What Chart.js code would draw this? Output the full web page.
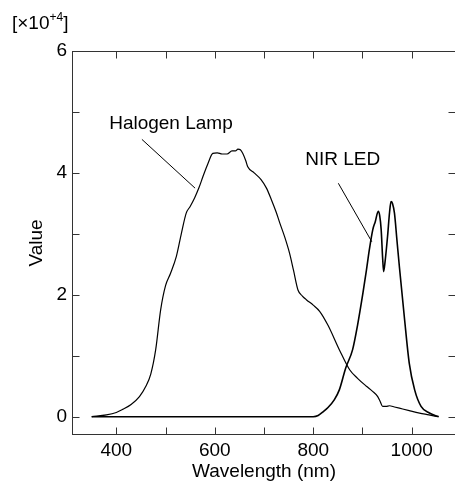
<!DOCTYPE html>
<html>
<head>
<meta charset="utf-8">
<script src="https://cdn.jsdelivr.net/npm/chart.js@4/dist/chart.umd.min.js"></script>
<style>
  html, body { margin: 0; padding: 0; background: #fff; overflow: hidden; }
  #wrap { width: 462px; height: 484px; }
</style>
</head>
<body>
<div id="wrap"><canvas id="SpectrumChart" width="462" height="484"></canvas></div>
<script>
// spectra, intensity in units of 1e4
const halogenWl = [350, 380, 400, 413, 430, 447, 460, 470, 480, 490, 500, 510, 522, 532, 542, 550, 559, 568, 576, 586, 596, 605, 615, 625, 635, 642, 647, 652, 657, 663, 667, 680, 694, 705, 715, 725, 732, 742, 752, 760, 769, 778, 786, 800, 813, 830, 853, 874, 890, 908, 920, 931, 936, 941, 948, 955, 965, 975, 995, 1016, 1035, 1053];
const halogenVal = [0, 0.03, 0.07, 0.12, 0.2, 0.33, 0.5, 0.7, 1.1, 1.75, 2.15, 2.35, 2.63, 3.0, 3.34, 3.45, 3.59, 3.76, 3.94, 4.15, 4.32, 4.33, 4.31, 4.31, 4.36, 4.36, 4.39, 4.38, 4.32, 4.2, 4.1, 4.0, 3.89, 3.75, 3.56, 3.35, 3.18, 2.95, 2.68, 2.4, 2.08, 1.98, 1.92, 1.83, 1.73, 1.5, 1.1, 0.77, 0.63, 0.5, 0.42, 0.33, 0.25, 0.17, 0.17, 0.18, 0.16, 0.14, 0.1, 0.06, 0.03, 0];

const ledWl = [350, 400, 450, 500, 550, 600, 650, 700, 750, 800, 810, 820, 830, 843, 853, 866, 880, 890, 901, 908, 914, 921, 926, 932, 935, 938, 941, 943, 946, 951, 955, 958, 961, 965, 970, 975, 985, 995, 1006, 1019, 1036, 1055];
const ledVal = [0, 0, 0, 0, 0, 0, 0, 0, 0, 0, 0.02, 0.08, 0.15, 0.28, 0.44, 0.8, 1.1, 1.5, 2.03, 2.4, 2.74, 3.07, 3.2, 3.37, 3.3, 3.07, 2.6, 2.38, 2.55, 2.96, 3.35, 3.53, 3.5, 3.34, 2.9, 2.46, 1.64, 0.88, 0.44, 0.17, 0.06, 0];

const xLabels = [400, 600, 800, 1000];
const yLabels = [0, 2, 4, 6];
const xMarks = [400, 500, 600, 700, 800, 900, 1000];
const yMarks = [0, 1, 2, 3, 4, 5, 6];

// callout text and leader lines, in data units
const callouts = [
  { text: 'Halogen Lamp', at: [511, 4.81], from: [452, 4.55], to: [560, 3.75] },
  { text: 'NIR LED', at: [860, 4.21], from: [851, 3.83], to: [919, 2.87] }
];

const FONT = '"Liberation Sans", Arial, sans-serif';
Chart.defaults.font.family = FONT;
Chart.defaults.font.size = 19;
Chart.defaults.color = '#000';

const toPoints = (xs, ys) => xs.map((v, i) => ({ x: v, y: ys[i] }));

const frame = {
  id: 'frame',
  afterDatasetsDraw(chart) {
    const { ctx, chartArea: a, scales: { x, y } } = chart;
    const L = Math.round(a.left) + 0.5, R = Math.round(a.right) - 0.5;
    const T = Math.round(a.top) + 0.5, B = Math.round(a.bottom) - 0.5;
    ctx.save();
    ctx.strokeStyle = '#333';
    ctx.lineWidth = 1;
    ctx.strokeRect(L, T, R - L, B - T);

    // ticks point into the plot
    ctx.beginPath();
    xMarks.forEach(v => {
      const px = Math.round(x.getPixelForValue(v)) + 0.5;
      ctx.moveTo(px, B); ctx.lineTo(px, B - 7);
      ctx.moveTo(px, T); ctx.lineTo(px, T + 7);
    });
    yMarks.forEach(v => {
      const py = Math.round(y.getPixelForValue(v)) + 0.5;
      ctx.moveTo(L, py); ctx.lineTo(L + 7, py);
      ctx.moveTo(R, py); ctx.lineTo(R - 7, py);
    });
    ctx.stroke();

    ctx.strokeStyle = '#000';
    ctx.fillStyle = '#000';
    ctx.font = '19px ' + FONT;
    ctx.textAlign = 'center';
    ctx.textBaseline = 'middle';
    callouts.forEach(c => {
      ctx.beginPath();
      ctx.moveTo(x.getPixelForValue(c.from[0]), y.getPixelForValue(c.from[1]));
      ctx.lineTo(x.getPixelForValue(c.to[0]), y.getPixelForValue(c.to[1]));
      ctx.stroke();
      ctx.fillText(c.text, x.getPixelForValue(c.at[0]), y.getPixelForValue(c.at[1]));
    });

    // axis multiplier
    ctx.textAlign = 'left';
    ctx.textBaseline = 'alphabetic';
    ctx.fillText('[\u00d710', 12, 29);
    const w = ctx.measureText('[\u00d710').width;
    ctx.font = '12px ' + FONT;
    ctx.fillText('+4', 12 + w, 21);
    const w2 = ctx.measureText('+4').width;
    ctx.font = '19px ' + FONT;
    ctx.fillText(']', 12 + w + w2, 29);
    ctx.restore();
  }
};

new Chart(document.getElementById('SpectrumChart'), {
  type: 'line',
  data: {
    datasets: [{
      label: 'Halogen Lamp',
      data: toPoints(halogenWl, halogenVal),
      borderColor: '#000',
      borderWidth: 1.2,
      pointRadius: 0,
      cubicInterpolationMode: 'monotone'
    }, {
      label: 'NIR LED',
      data: toPoints(ledWl, ledVal),
      borderColor: '#000',
      borderWidth: 1.6,
      pointRadius: 0,
      cubicInterpolationMode: 'monotone'
    }]
  },
  options: {
    responsive: false,
    animation: false,
    devicePixelRatio: 1,
    layout: { padding: { top: 51, right: 6, left: 0, bottom: 0 } },
    plugins: {
      legend: { display: false },
      tooltip: { enabled: false }
    },
    scales: {
      x: {
        type: 'linear',
        min: 310,
        max: 1090,
        border: { display: false },
        grid: { display: false, drawTicks: false },
        afterBuildTicks: s => { s.ticks = xLabels.map(v => ({ value: v })); },
        afterFit: s => { s.height = 49; },
        ticks: { padding: 4, maxRotation: 0, callback: v => String(v) },
        title: { display: true, text: 'Wavelength (nm)', padding: { top: 0, bottom: 1 } }
      },
      y: {
        min: -0.3,
        max: 6,
        border: { display: false },
        grid: { display: false, drawTicks: false },
        afterBuildTicks: s => { s.ticks = yLabels.map(v => ({ value: v })); },
        afterFit: s => { s.width = 72; },
        ticks: { padding: 5, callback: v => String(v) },
        title: { display: true, text: 'Value', padding: { top: 25, bottom: 0 } }
      }
    }
  },
  plugins: [frame]
});
</script>
</body>
</html>
